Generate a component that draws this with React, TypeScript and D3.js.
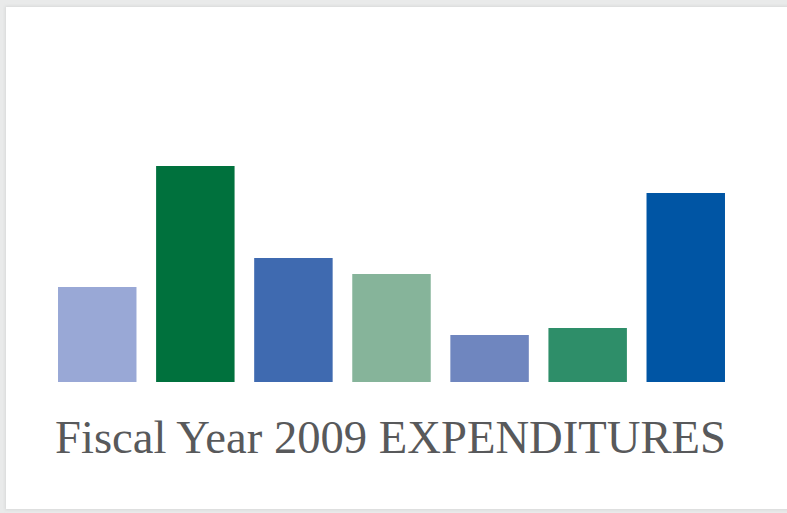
import React, { useMemo } from "react";
import * as d3 from "d3";

// seven expenditure categories, unlabeled in the original graphic
const categories = ["A", "B", "C", "D", "E", "F", "G"];
const values = [95, 216, 124, 108, 47, 54, 189];
const colors = ["#99a8d6", "#00713d", "#3f6ab0", "#86b49a", "#6f86bf", "#2e8e69", "#0055a4"];
const title = "Fiscal Year 2009 EXPENDITURES";

export default function App() {
  const width = 787;
  const height = 513;
  const baseY = 382;
  const topY = 166;

  const x = useMemo(
    () => d3.scaleBand<string>().domain(categories).range([38.4, 744.6]).paddingInner(0.2).paddingOuter(0.2),
    []
  );
  const y = useMemo(
    () => d3.scaleLinear().domain([0, d3.max(values) as number]).range([baseY, topY]),
    []
  );

  return (
    <svg
      width={width}
      height={height}
      style={{ position: "absolute", left: 0, top: 0, display: "block" }}
    >
      <defs>
        <filter id="shadow" x="-5%" y="-5%" width="110%" height="110%">
          <feGaussianBlur stdDeviation="1.5" />
        </filter>
      </defs>
      <rect width={width} height={height} fill="#e9eaea" />
      <rect x={5} y={6} width={width} height={504} fill="#d8d9d9" filter="url(#shadow)" />
      <rect x={6} y={7} width={width} height={502} fill="#ffffff" />
      <g className="bars">
        {values.map((v, i) => (
          <rect
            key={categories[i]}
            x={x(categories[i])}
            y={y(v)}
            width={x.bandwidth()}
            height={baseY - y(v)}
            fill={colors[i]}
          />
        ))}
      </g>
      <text
        x={55}
        y={453}
        fontFamily="'Liberation Serif', 'DejaVu Serif', serif"
        fontSize={47}
        fill="#58595b"
        textLength={671}
        lengthAdjust="spacingAndGlyphs"
      >
        {title}
      </text>
    </svg>
  );
}
